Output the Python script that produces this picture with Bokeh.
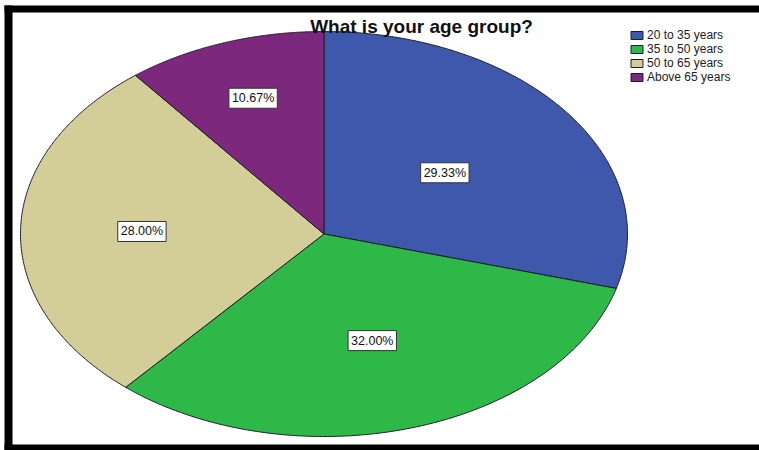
import numpy as np
from bokeh.plotting import figure
from bokeh.models import ColumnDataSource, Range1d, Label, Legend, LegendItem, BoxAnnotation
from bokeh.core.properties import value
from bokeh.embed import file_html
from bokeh.resources import INLINE

# ---- data ----
categories = ["20 to 35 years", "35 to 50 years", "50 to 65 years", "Above 65 years"]
percents = [29.33, 32.00, 28.00, 10.67]
colors = ["#3E58AC", "#2EB848", "#D3CE97", "#7C287D"]
title_text = "What is your age group?"

# ---- layout (screen-pixel-like data space, y negative downward) ----
CX, CY, RX, RY = 323.5, -233.5, 303.5, 202.5
label_r = [0.5, 0.55, 0.6, 0.71]

p = figure(width=759, height=450,
           x_range=Range1d(0, 759), y_range=Range1d(-450, 0),
           x_axis_type=None, y_axis_type=None,
           toolbar_location=None, output_backend="svg",
           min_border=0,
           border_fill_color="white", background_fill_color="white",
           outline_line_color=None)
p.grid.visible = False

# black frame decoration (top, left, bottom)
for l, rr, t, b in [(4, 759, -5, -12), (4, 12, -5, -450), (4, 759, -444, -450)]:
    p.add_layout(BoxAnnotation(left=l, right=rr, top=t, bottom=b,
                               fill_color="black", fill_alpha=1, line_color=None,
                               level="underlay"))

total = float(sum(percents))
fr = np.cumsum([0.0] + percents) / total
xs, ys, lx, ly, txt = [], [], [], [], []
for i, v in enumerate(percents):
    t = np.linspace(2 * np.pi * fr[i], 2 * np.pi * fr[i + 1], 240)
    xs.append([CX] + list(CX + RX * np.sin(t)))
    ys.append([CY] + list(CY + RY * np.cos(t)))
    tm = np.pi * (fr[i] + fr[i + 1])
    lx.append(CX + RX * label_r[i] * np.sin(tm))
    ly.append(CY + RY * label_r[i] * np.cos(tm))
    txt.append(f"{v:.2f}%")

src = ColumnDataSource(dict(xs=xs, ys=ys, color=colors, label=categories))
r = p.patches("xs", "ys", source=src, fill_color="color",
              line_color="#1e1e2a", line_width=1)

lsrc = ColumnDataSource(dict(x=lx, y=ly, text=txt))
p.text(x="x", y="y", text="text", source=lsrc,
       text_align="center", text_baseline="middle",
       text_font=value("Liberation Sans"), text_font_size="12.5px",
       text_color="#111111",
       background_fill_color="white",
       border_line_color="#333333", border_line_width=1,
       padding=3)

p.add_layout(Label(x=421, y=-26, text=title_text, text_align="center",
                   text_baseline="alphabetic", text_font="Liberation Sans",
                   text_font_style="bold", text_font_size="19px",
                   text_color="#111111"))

legend = Legend(items=[LegendItem(label=c, renderers=[r], index=i)
                       for i, c in enumerate(categories)],
                location=(629, 450 - 84), orientation="vertical",
                padding=0, margin=0, spacing=0,
                glyph_width=15, glyph_height=10, label_height=12,
                label_standoff=3,
                label_text_font="Liberation Sans", label_text_font_size="12px",
                label_text_color="#222222",
                border_line_color=None, background_fill_alpha=0)
p.add_layout(legend, "center")

open("out.html", "w").write(file_html(p, INLINE))
